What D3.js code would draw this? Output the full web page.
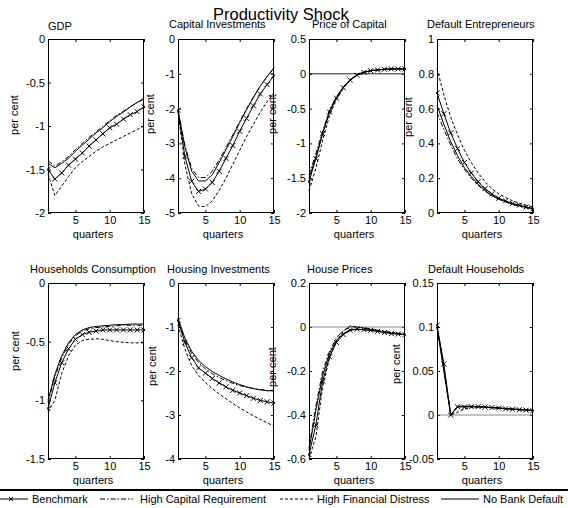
<!DOCTYPE html>
<html>
<head>
<meta charset="utf-8">
<script src="https://cdn.jsdelivr.net/npm/d3@7"></script>
<style>
  html, body { margin: 0; padding: 0; background: #fff; }
  svg { display: block; font-family: "Liberation Sans", Arial, sans-serif; }
</style>
</head>
<body>
<svg id="chart" width="568" height="508"></svg>
<script>
// ---------------- DATA ----------------
const quarters = d3.range(1, 16);
const seriesNames = ["Benchmark", "High Capital Requirement", "High Financial Distress", "No Bank Default"];
const chartTitle = "Productivity Shock";
const panelTitles = ["GDP", "Capital Investments", "Price of Capital", "Default Entrepreneurs",
                     "Households Consumption", "Housing Investments", "House Prices", "Default Households"];

// each: [Benchmark, High Capital Requirement, High Financial Distress, No Bank Default]
const gdpValues = [
  [-1.50,-1.61,-1.54,-1.45,-1.38,-1.31,-1.23,-1.16,-1.09,-1.02,-0.98,-0.92,-0.87,-0.835,-0.78],
  [-1.40,-1.46,-1.41,-1.35,-1.27,-1.20,-1.13,-1.07,-1.00,-0.94,-0.88,-0.83,-0.78,-0.73,-0.69],
  [-1.55,-1.80,-1.69,-1.58,-1.48,-1.41,-1.35,-1.29,-1.24,-1.20,-1.16,-1.12,-1.08,-1.04,-1.00],
  [-1.43,-1.48,-1.43,-1.37,-1.29,-1.22,-1.15,-1.08,-1.02,-0.95,-0.89,-0.84,-0.78,-0.73,-0.68]
];
const capInvValues = [
  [-2.05,-3.37,-4.09,-4.38,-4.31,-4.12,-3.80,-3.43,-3.06,-2.65,-2.28,-1.92,-1.58,-1.31,-1.05],
  [-2.05,-3.05,-3.72,-3.98,-3.98,-3.80,-3.48,-3.12,-2.75,-2.37,-2.00,-1.66,-1.35,-1.08,-0.85],
  [-2.10,-3.60,-4.45,-4.80,-4.82,-4.65,-4.35,-4.00,-3.60,-3.20,-2.80,-2.45,-2.10,-1.80,-1.55],
  [-2.05,-3.10,-3.80,-4.08,-4.08,-3.90,-3.55,-3.18,-2.80,-2.40,-2.03,-1.68,-1.35,-1.08,-0.82]
];
const priceCapValues = [
  [-1.55,-1.22,-0.86,-0.55,-0.35,-0.20,-0.09,-0.02,0.02,0.045,0.055,0.065,0.07,0.07,0.07],
  [-1.45,-1.15,-0.82,-0.52,-0.33,-0.19,-0.08,-0.015,0.025,0.045,0.055,0.065,0.07,0.07,0.07],
  [-1.68,-1.36,-0.95,-0.60,-0.37,-0.21,-0.09,-0.02,0.02,0.045,0.055,0.065,0.07,0.07,0.07],
  [-1.50,-1.20,-0.85,-0.53,-0.34,-0.19,-0.085,-0.015,0.025,0.045,0.055,0.065,0.07,0.07,0.07]
];
const defEntValues = [
  [0.69,0.57,0.46,0.37,0.29,0.23,0.18,0.14,0.11,0.085,0.07,0.055,0.045,0.035,0.025],
  [0.58,0.48,0.39,0.31,0.25,0.20,0.16,0.125,0.10,0.08,0.065,0.05,0.04,0.03,0.022],
  [0.83,0.68,0.55,0.45,0.36,0.29,0.23,0.18,0.14,0.11,0.09,0.07,0.055,0.045,0.035],
  [0.62,0.51,0.41,0.33,0.26,0.21,0.165,0.13,0.10,0.08,0.065,0.05,0.04,0.032,0.025]
];
const hhConsValues = [
  [-1.07,-0.85,-0.68,-0.56,-0.48,-0.44,-0.42,-0.41,-0.40,-0.40,-0.40,-0.40,-0.40,-0.40,-0.40],
  [-1.02,-0.80,-0.64,-0.52,-0.45,-0.41,-0.39,-0.38,-0.375,-0.37,-0.365,-0.36,-0.36,-0.36,-0.36],
  [-1.10,-1.00,-0.77,-0.62,-0.53,-0.49,-0.48,-0.475,-0.48,-0.49,-0.50,-0.505,-0.51,-0.51,-0.51],
  [-1.00,-0.78,-0.62,-0.51,-0.44,-0.40,-0.38,-0.37,-0.365,-0.36,-0.355,-0.355,-0.35,-0.35,-0.35]
];
const housInvValues = [
  [-0.85,-1.35,-1.70,-1.93,-2.05,-2.17,-2.27,-2.36,-2.44,-2.50,-2.56,-2.62,-2.67,-2.70,-2.73],
  [-0.85,-1.30,-1.60,-1.81,-1.95,-2.06,-2.15,-2.22,-2.28,-2.33,-2.37,-2.40,-2.42,-2.44,-2.44],
  [-0.95,-1.50,-1.88,-2.10,-2.26,-2.40,-2.52,-2.63,-2.74,-2.84,-2.93,-3.02,-3.10,-3.18,-3.25],
  [-0.80,-1.25,-1.55,-1.76,-1.90,-2.01,-2.10,-2.18,-2.25,-2.31,-2.36,-2.40,-2.43,-2.45,-2.45]
];
const housePriceValues = [
  [-0.58,-0.445,-0.246,-0.135,-0.07,-0.035,-0.015,-0.01,-0.012,-0.015,-0.02,-0.025,-0.03,-0.032,-0.035],
  [-0.55,-0.36,-0.20,-0.11,-0.05,-0.015,0.0,0.0,-0.005,-0.01,-0.015,-0.02,-0.025,-0.028,-0.03],
  [-0.60,-0.50,-0.27,-0.14,-0.065,-0.02,0.005,0.0,-0.005,-0.01,-0.015,-0.02,-0.025,-0.03,-0.035],
  [-0.56,-0.38,-0.22,-0.12,-0.06,-0.03,-0.012,-0.01,-0.012,-0.015,-0.02,-0.024,-0.028,-0.032,-0.035]
];
const defHhValues = [
  [0.102,0.058,0.0,0.0094,0.009,0.0095,0.0095,0.009,0.0085,0.008,0.007,0.0065,0.006,0.0055,0.005],
  [0.10,0.055,0.0,0.009,0.0095,0.0095,0.009,0.0088,0.0083,0.0078,0.0072,0.0066,0.006,0.0055,0.005],
  [0.10,0.052,0.0,0.003,0.007,0.0085,0.009,0.0088,0.0083,0.0078,0.0072,0.0066,0.006,0.0055,0.005],
  [0.10,0.05,0.0,0.01,0.01,0.01,0.0095,0.009,0.0085,0.008,0.0075,0.007,0.0065,0.006,0.0055]
];

const yDomains = [[-2,0],[-5,0],[-2,0.5],[0,1],[-1.5,0],[-4,0],[-0.6,0.2],[-0.05,0.15]];
const yTickValues = [
  [-2,-1.5,-1,-0.5,0], [-5,-4,-3,-2,-1,0], [-2,-1.5,-1,-0.5,0,0.5], [0,0.2,0.4,0.6,0.8,1],
  [-1.5,-1,-0.5,0], [-4,-3,-2,-1,0], [-0.6,-0.4,-0.2,0,0.2], [-0.05,0,0.05,0.1,0.15]
];
const xTickValues = [5, 10, 15];
const zeroLineColors = [null, null, "#222", null, null, null, "#888", "#888"];
const panelValues = [gdpValues, capInvValues, priceCapValues, defEntValues,
                     hhConsValues, housInvValues, housePriceValues, defHhValues];

// ---------------- LAYOUT ----------------
const colLeft = [48, 178, 309, 437];
const rowTop = [39, 283];
const plotW = 96, plotH = [174, 176];
const titleStartX = [48, 169, 312, 427, 30, 167, 307, 428];
const titleBaseline = [30, 28, 28, 28, 273, 273, 273, 273];
const ylabelPos = [[14,115],[150,114],[272,114],[408,117],[15,351],[152,366],[272,367],[396,364]];
const dashStyles = [null, "5,2,1.5,2", "3,2", null];

const svg = d3.select("#chart");
const fmt = v => String(+v.toFixed(4));

svg.append("text").attr("x", 213).attr("y", 20).attr("font-size", 16.5)
  .text(chartTitle);

panelValues.forEach((vals, i) => {
  const r = Math.floor(i / 4), c = i % 4;
  const left = colLeft[c], top = rowTop[r], h = plotH[r];
  const g = svg.append("g").attr("transform", `translate(${left},${top})`);
  const x = d3.scaleLinear().domain([1, 15]).range([0, plotW]);
  const y = d3.scaleLinear().domain(yDomains[i]).range([h, 0]);

  // axes with inward ticks
  const ax = (gen, tf, labels) => {
    const a = g.append("g").attr("transform", tf)
      .call(gen.tickSize(-3).tickPadding(3).tickFormat(labels ? fmt : ""));
    a.select(".domain").remove();
    a.selectAll("line").attr("stroke", "#000");
    a.selectAll("text").attr("font-size", 11).attr("fill", "#000")
      .attr("font-family", "'Liberation Sans', Arial, sans-serif");
    return a;
  };
  ax(d3.axisLeft(y).tickValues(yTickValues[i]), null, true);
  ax(d3.axisRight(y).tickValues(yTickValues[i]), `translate(${plotW},0)`, false);
  ax(d3.axisBottom(x).tickValues(xTickValues), `translate(0,${h})`, true);
  ax(d3.axisTop(x).tickValues(xTickValues), null, false);

  if (zeroLineColors[i]) {
    g.append("line").attr("x1", 0).attr("x2", plotW)
      .attr("y1", y(0)).attr("y2", y(0))
      .attr("stroke", zeroLineColors[i]).attr("stroke-width", 1);
  }

  const line = d3.line().x((d, k) => x(quarters[k])).y(d => y(d));
  const clipId = "clip" + i;
  g.append("clipPath").attr("id", clipId).append("rect")
    .attr("x", -1).attr("y", -1).attr("width", plotW + 2).attr("height", h + 2);
  const sg = g.append("g").attr("clip-path", `url(#${clipId})`);
  [3, 1, 2, 0].forEach(s => {
    sg.append("path").attr("d", line(vals[s])).attr("fill", "none")
      .attr("stroke", "#000").attr("stroke-width", 1)
      .attr("stroke-dasharray", dashStyles[s]);
  });
  sg.selectAll(".mk").data(vals[0]).join("path")
    .attr("transform", (d, k) => `translate(${x(quarters[k])},${y(d)})`)
    .attr("d", "M-2.5,-2.5L2.5,2.5M-2.5,2.5L2.5,-2.5")
    .attr("stroke", "#000").attr("stroke-width", 1).attr("fill", "none");

  g.append("rect").attr("x", 0.5).attr("y", 0.5).attr("width", plotW - 1).attr("height", h - 1)
    .attr("fill", "none").attr("stroke", "#000").attr("stroke-width", 1);

  svg.append("text").attr("x", titleStartX[i]).attr("y", titleBaseline[i])
    .attr("font-size", 11).text(panelTitles[i]);
  svg.append("text").attr("x", left + plotW / 2 - 3).attr("y", top + h + 25)
    .attr("text-anchor", "middle").attr("font-size", 11).text("quarters");
  const [lx, ly] = ylabelPos[i];
  svg.append("text").attr("transform", `translate(${lx + 4},${ly}) rotate(-90)`)
    .attr("text-anchor", "middle").attr("font-size", 11).text("per cent");
});

// ---------------- LEGEND ----------------
const legend = svg.append("g");
legend.append("rect").attr("x", -2).attr("y", 490).attr("width", 572).attr("height", 30)
  .attr("fill", "#fff").attr("stroke", "#000").attr("stroke-width", 2);
const legendLines = [[-4, 28, 32], [100, 133, 140], [280, 314, 317], [441, 479, 483]];
seriesNames.forEach((name, s) => {
  const [x1, x2, tx] = legendLines[s];
  legend.append("line").attr("x1", x1).attr("x2", x2).attr("y1", 499).attr("y2", 499)
    .attr("stroke", "#000").attr("stroke-width", 1).attr("stroke-dasharray", dashStyles[s]);
  if (s === 0) {
    legend.append("path").attr("transform", "translate(11,499)")
      .attr("d", "M-2,-2L2,2M-2,2L2,-2").attr("stroke", "#000");
  }
  legend.append("text").attr("x", tx).attr("y", 503).attr("font-size", 11).text(name);
});
</script>
</body>
</html>
